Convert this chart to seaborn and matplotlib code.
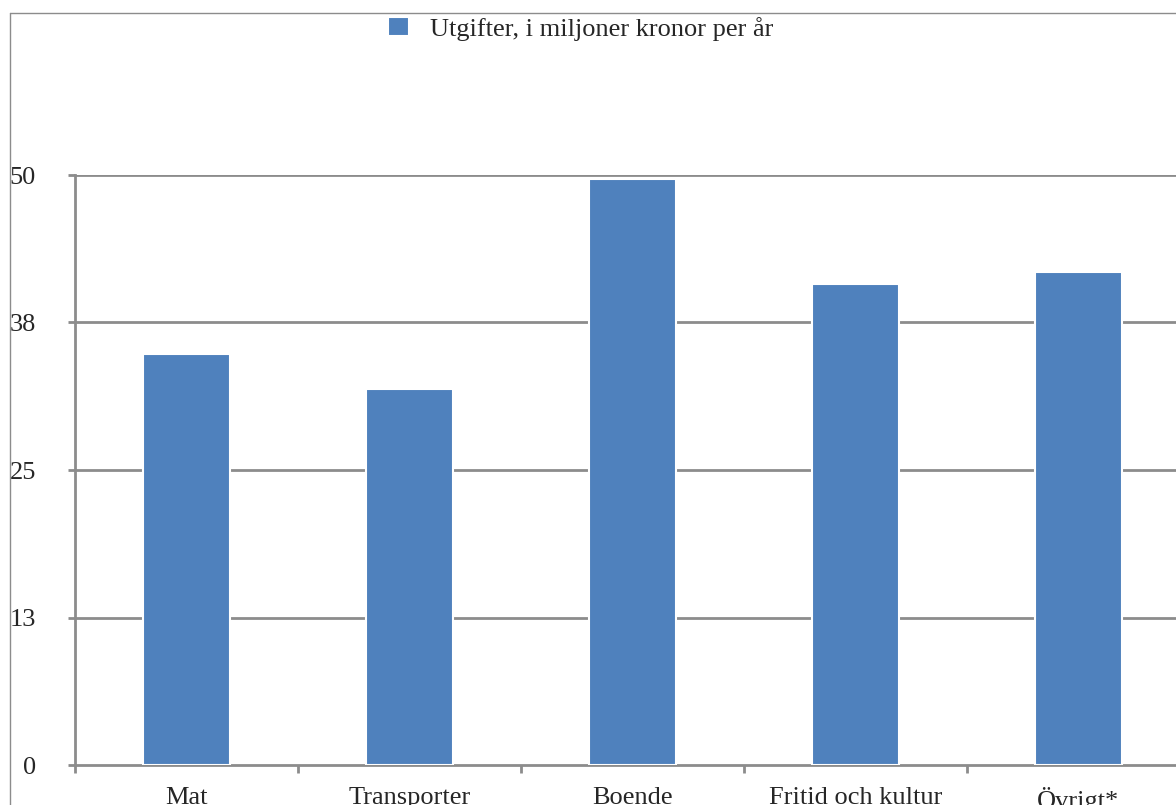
"""
Utgifter per kategori
---------------------
Stapeldiagram, miljoner kronor per år.
"""

import matplotlib
matplotlib.use("Agg")
import matplotlib.pyplot as plt
from matplotlib.lines import Line2D
import seaborn as sns

categories = ["Mat", "Transporter", "Boende", "Fritid och kultur", "Övrigt*"]
values = [34.8, 31.9, 49.7, 40.8, 41.8]
y_ticks = [0, 12.5, 25, 37.5, 50]
y_ticklabels = ["0", "13", "25", "38", "50"]
series_label = "Utgifter, i miljoner kronor per år"

W, H = 1176, 805
BAR = "#4F81BD"
GRID = "#8c8c8c"
FS = 19

sns.set_style("white")
plt.rcParams["font.family"] = ["Liberation Serif", "DejaVu Serif"]

fig = plt.figure(figsize=(W / 100, H / 100), dpi=100)
# axes run past the right edge, the original is cropped there
ax = fig.add_axes([75 / W, 40 / H, 1115 / W, 590 / H])

sns.barplot(
    x=categories,
    y=values,
    color=BAR,
    saturation=1,
    width=0.39,
    edgecolor="white",
    linewidth=1.5,
    label=series_label,
    ax=ax,
    zorder=3,
)

ax.set_xlim(-0.5, len(categories) - 0.5)
ax.set_ylim(0, 50)
ax.set_yticks(y_ticks)
ax.set_yticklabels(y_ticklabels)
ax.set_xlabel("")
ax.set_ylabel("")

# grid behind bars
for t in y_ticks[1:]:
    ax.axhline(t, color=GRID, lw=2, zorder=1)

for side in ["top", "right"]:
    ax.spines[side].set_visible(False)
for side in ["left", "bottom"]:
    ax.spines[side].set_color(GRID)
    ax.spines[side].set_linewidth(2)

ax.tick_params(axis="y", length=5, width=2, color=GRID, pad=23,
               labelsize=FS, direction="out", left=True)
ax.tick_params(axis="x", which="major", length=0, pad=16, labelsize=FS)
ax.set_xticks([i - 0.5 for i in range(len(categories) + 1)], minor=True)
ax.tick_params(axis="x", which="minor", length=6, width=2, color=GRID,
               direction="out", bottom=True)
for lbl in ax.get_yticklabels():
    lbl.set_horizontalalignment("right")

if ax.get_legend() is not None:
    ax.get_legend().remove()
handles, labels = ax.get_legend_handles_labels()
fig.legend(
    handles[:1], labels[:1],
    loc="center left",
    bbox_to_anchor=(388 / W, 1 - 29 / H),
    frameon=False,
    fontsize=FS,
    handlelength=0.8,
    handleheight=0.75,
    handletextpad=0.8,
    borderpad=0,
    borderaxespad=0,
)

# outer frame lines of the original picture
fig.add_artist(Line2D([10 / W, 10 / W], [0, 1 - 13 / H],
                      transform=fig.transFigure, color=GRID, lw=1))
fig.add_artist(Line2D([10 / W, 1], [1 - 13 / H, 1 - 13 / H],
                      transform=fig.transFigure, color=GRID, lw=1))

fig.savefig("out.png", dpi=100)
